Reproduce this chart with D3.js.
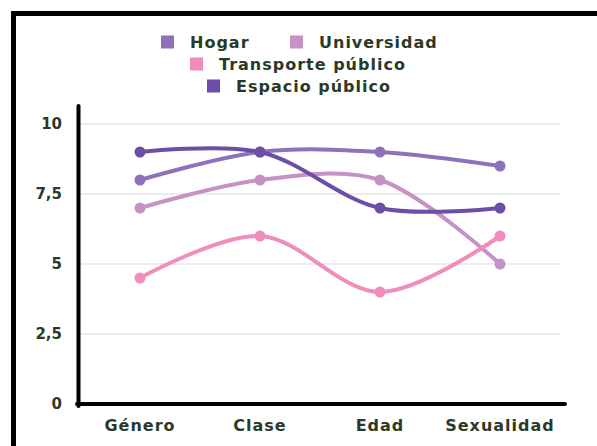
<!DOCTYPE html>
<html lang="es">
  <head>
    <meta charset="utf-8">
    <title>Percepción</title>
    <script src="https://cdn.jsdelivr.net/npm/d3@7"></script>
    <style>
      body { margin: 0; background: #fff; }
      text { font-family: "DejaVu Sans", sans-serif; font-weight: bold; fill: #2b3a28; }
    </style>
  </head>
  <body>
    <script>
      // data
      const categories = ["Género", "Clase", "Edad", "Sexualidad"];
      const seriesNames = ["Hogar", "Universidad", "Transporte público", "Espacio público"];
      const hogar = [8, 9, 9, 8.5];
      const universidad = [7, 8, 8, 5];
      const transporte = [4.5, 6, 4, 6];
      const espacio = [9, 9, 7, 7];
      const yTicks = [0, 2.5, 5, 7.5, 10];
      const colors = ["#8d72bb", "#c691c5", "#f08dbc", "#6a4ea8"];

      const series = [hogar, universidad, transporte, espacio].map((vals, i) => ({
        name: seriesNames[i], color: colors[i], values: vals
      }));

      const W = 597, H = 446;
      const X0 = 80, X1 = 560, Y0 = 404, Y1 = 124;

      let svg = d3.select("body").append("svg")
        .attr("width", W).attr("height", H);

      // outer frame (cropped by the picture edges)
      svg.append("path")
        .attr("d", "M13.5," + H + " V13.5 H" + W)
        .attr("fill", "none").attr("stroke", "#000").attr("stroke-width", 5);

      let x = d3.scalePoint().domain(categories).range([X0, X1]).padding(0.5);
      let y = d3.scaleLinear().domain([0, 10]).range([Y0, Y1]);

      // grid
      svg.append("g").selectAll("line")
        .data(yTicks.filter(d => d > 0))
        .join("line")
        .attr("x1", X0).attr("x2", X1)
        .attr("y1", d => y(d)).attr("y2", d => y(d))
        .attr("stroke", "#e6e6e6").attr("stroke-width", 1.5);

      // y labels
      const fmt = d => String(d).replace(".", ",");
      svg.append("g").selectAll("text")
        .data(yTicks)
        .join("text")
        .attr("x", 62).attr("y", d => y(d))
        .attr("text-anchor", "end").attr("dominant-baseline", "central")
        .attr("font-size", 15)
        .text(fmt);

      // x labels
      svg.append("g").selectAll("text")
        .data(categories)
        .join("text")
        .attr("x", d => x(d)).attr("y", 425)
        .attr("text-anchor", "middle").attr("dominant-baseline", "central")
        .attr("font-size", 16).attr("letter-spacing", 1)
        .text(d => d);

      // axes lines
      svg.append("line").attr("x1", 78.5).attr("x2", 78.5).attr("y1", 106).attr("y2", 406)
        .attr("stroke", "#000").attr("stroke-width", 4).attr("stroke-linecap", "round");
      svg.append("line").attr("x1", 77).attr("x2", 565).attr("y1", 404).attr("y2", 404)
        .attr("stroke", "#000").attr("stroke-width", 4).attr("stroke-linecap", "round");

      // lines
      let line = d3.line()
        .x((d, i) => x(categories[i]))
        .y(d => y(d))
        .curve(d3.curveCatmullRom.alpha(0.5));

      let g = svg.append("g");
      series.forEach(s => {
        g.append("path")
          .attr("d", line(s.values))
          .attr("fill", "none").attr("stroke", s.color)
          .attr("stroke-width", 4).attr("stroke-linecap", "round");
        g.selectAll(null)
          .data(s.values)
          .join("circle")
          .attr("cx", (d, i) => x(categories[i]))
          .attr("cy", d => y(d))
          .attr("r", 5.5).attr("fill", s.color);
      });

      // legend
      const legendPos = [[161, 42], [290, 42], [190, 64], [207, 86]];
      let lg = svg.append("g");
      series.forEach((s, i) => {
        const [lx, ly] = legendPos[i];
        lg.append("rect")
          .attr("x", lx).attr("y", ly - 6.5).attr("width", 13).attr("height", 13)
          .attr("fill", s.color);
        lg.append("text")
          .attr("x", lx + 29).attr("y", ly)
          .attr("dominant-baseline", "central")
          .attr("font-size", 16).attr("letter-spacing", 1)
          .text(s.name);
      });
    </script>
  </body>
</html>
